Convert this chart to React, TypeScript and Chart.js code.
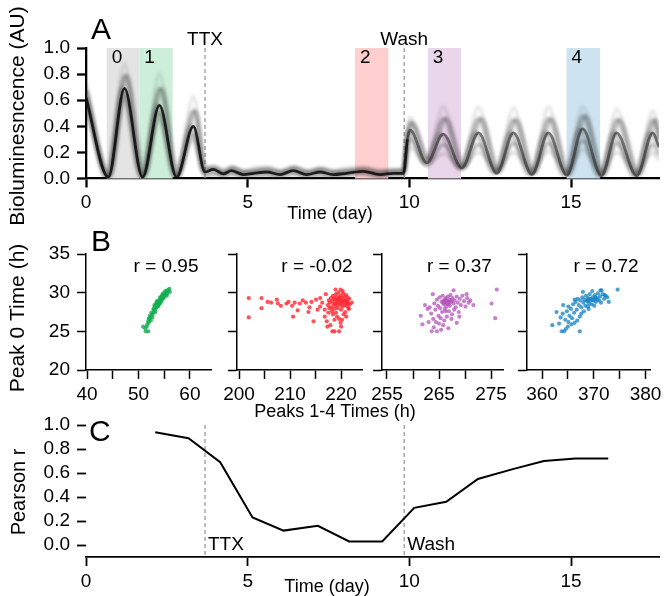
import React, { useEffect, useRef } from 'react';
import { Chart, registerables } from 'chart.js';

Chart.register(...registerables);

const W = 666;
const H = 596;
const FONT = "'Liberation Sans', Arial, Helvetica, sans-serif";

// ---------------- Panel A data ----------------
const regionLabels = ['0', '1', '2', '3', '4'];
const regionStarts = [0.64, 1.65, 8.32, 10.57, 14.86];
const regionEnds = [1.65, 2.68, 9.35, 11.6, 15.9];
const regionColors = ['#e4e4e4', '#cdeed9', '#ffcfcf', '#ead6ea', '#cde3ef'];
const eventDays = [3.68, 9.84];
const eventLabels = ['TTX', 'Wash'];

const extremaDays = [0.0, 0.69, 1.19, 1.75, 2.27, 2.8, 3.32, 3.68, 3.94, 4.25, 4.5, 4.87, 5.18, 5.6, 6.0, 6.41, 6.83, 7.24, 7.64, 8.06, 8.58, 9.09, 9.5, 9.82, 9.94, 10.02, 10.54, 11.05, 11.62, 12.14, 12.7, 13.22, 13.79, 14.3, 14.87, 15.36, 15.94, 16.41, 17.03, 17.53, 17.72];
const earlyDays = [0.0, 0.62, 1.12, 1.68, 2.2, 2.73, 3.25, 3.64, 3.9, 4.2, 4.45, 4.82, 5.13, 5.55, 5.95, 6.36, 6.78, 7.19, 7.59, 8.01, 8.53, 9.04, 9.45, 9.78, 9.9, 9.97, 10.46, 10.96, 11.53, 12.05, 12.61, 13.13, 13.7, 14.21, 14.78, 15.27, 15.85, 16.32, 16.94, 17.44, 17.72];
const lateDays = [0.0, 0.76, 1.26, 1.82, 2.34, 2.87, 3.39, 3.72, 3.98, 4.3, 4.55, 4.92, 5.23, 5.65, 6.05, 6.46, 6.88, 7.29, 7.69, 8.11, 8.63, 9.14, 9.55, 9.85, 9.98, 10.08, 10.63, 11.14, 11.71, 12.23, 12.79, 13.31, 13.88, 14.39, 14.96, 15.45, 16.03, 16.5, 17.12, 17.62, 17.72];

const coreLevels = [0.62, 0.01, 0.69, 0.01, 0.56, 0.01, 0.4, 0.05, 0.07, 0.035, 0.06, 0.03, 0.04, 0.05, 0.03, 0.06, 0.03, 0.05, 0.03, 0.04, 0.055, 0.03, 0.04, 0.04, 0.3, 0.37, 0.12, 0.34, 0.08, 0.35, 0.04, 0.35, 0.03, 0.35, 0.025, 0.38, 0.02, 0.35, 0.02, 0.35, 0.24];
const highLevels = [0.74, 0.03, 0.88, 0.03, 0.8, 0.03, 0.63, 0.09, 0.1, 0.07, 0.09, 0.06, 0.08, 0.09, 0.06, 0.09, 0.06, 0.08, 0.06, 0.08, 0.09, 0.06, 0.07, 0.07, 0.38, 0.47, 0.16, 0.55, 0.1, 0.55, 0.06, 0.54, 0.05, 0.55, 0.04, 0.55, 0.04, 0.53, 0.04, 0.52, 0.36];
const upperLevels = [0.68, 0.02, 0.79, 0.02, 0.69, 0.02, 0.52, 0.07, 0.08, 0.05, 0.08, 0.05, 0.06, 0.07, 0.05, 0.08, 0.05, 0.07, 0.05, 0.06, 0.07, 0.05, 0.06, 0.06, 0.34, 0.43, 0.14, 0.46, 0.09, 0.46, 0.05, 0.45, 0.04, 0.46, 0.03, 0.48, 0.03, 0.45, 0.03, 0.45, 0.3];
const lowerLevels = [0.58, 0.01, 0.64, 0.01, 0.5, 0.01, 0.34, 0.03, 0.04, 0.02, 0.04, 0.02, 0.03, 0.03, 0.02, 0.04, 0.02, 0.03, 0.02, 0.03, 0.04, 0.02, 0.03, 0.03, 0.25, 0.3, 0.1, 0.26, 0.07, 0.26, 0.05, 0.27, 0.04, 0.27, 0.04, 0.29, 0.03, 0.27, 0.03, 0.26, 0.18];
const lowLevels = [0.52, 0.02, 0.6, 0.02, 0.45, 0.02, 0.3, 0.02, 0.03, 0.02, 0.03, 0.01, 0.02, 0.02, 0.01, 0.03, 0.01, 0.02, 0.01, 0.02, 0.03, 0.01, 0.02, 0.02, 0.2, 0.24, 0.11, 0.19, 0.09, 0.2, 0.08, 0.2, 0.07, 0.21, 0.06, 0.22, 0.06, 0.2, 0.06, 0.2, 0.14];

// ---------------- Panel B data ([peak k time, peak 0 time]) ----------------
const peak1Pairs = [[50.9, 25.6], [51.4, 25.0], [51.9, 25.0], [51.3, 25.4], [51.7, 25.9], [51.9, 26.3], [52.1, 26.6], [52.0, 26.1], [52.3, 26.8], [52.4, 26.4], [52.6, 27.1], [52.5, 27.4], [52.8, 27.3], [52.9, 27.8], [53.0, 27.5], [53.1, 28.0], [53.2, 28.2], [53.3, 27.9], [53.4, 28.4], [53.5, 28.1], [53.6, 28.5], [53.7, 28.8], [53.8, 28.4], [53.9, 28.9], [54.0, 28.6], [54.1, 29.1], [54.2, 28.8], [54.3, 29.3], [54.4, 29.0], [54.5, 29.5], [54.6, 29.2], [54.7, 29.6], [54.8, 29.4], [54.9, 29.8], [55.0, 29.5], [55.1, 29.9], [55.3, 29.7], [55.4, 30.1], [55.6, 29.9], [55.8, 30.3], [56.0, 30.5], [56.1, 30.1], [53.5, 28.7], [53.9, 28.3], [54.3, 28.7], [52.2, 27.0], [54.6, 29.7], [55.2, 30.2], [53.0, 27.9], [52.7, 26.8], [53.3, 27.5], [53.7, 28.2], [54.1, 28.6], [54.5, 29.0], [54.9, 29.3], [55.5, 29.6], [52.0, 26.6], [51.6, 25.6], [53.1, 28.4], [53.6, 28.9], [54.2, 29.4], [54.8, 29.9], [55.6, 30.3]];
const peak2Pairs = [[201.9, 29.3], [201.9, 26.8], [204.4, 29.3], [204.4, 28.0], [205.6, 28.8], [206.3, 28.7], [207.4, 29.1], [207.6, 28.6], [208.2, 28.3], [209.3, 28.6], [209.7, 28.8], [210.4, 28.3], [210.6, 26.9], [210.9, 28.7], [211.5, 27.7], [211.9, 28.6], [212.5, 29.0], [213.1, 28.7], [213.6, 27.5], [213.8, 28.1], [214.2, 28.8], [214.6, 26.3], [215.1, 29.1], [215.4, 27.8], [215.9, 29.3], [215.9, 28.2], [216.3, 28.7], [216.8, 27.8], [216.8, 26.9], [217.0, 29.8], [217.2, 26.3], [217.3, 25.6], [218.3, 25.0], [218.7, 25.0], [219.6, 25.0], [218.9, 30.4], [219.9, 30.4], [219.2, 26.9], [219.9, 26.1], [220.2, 26.5], [217.9, 25.8], [222.1, 28.7], [221.5, 28.0], [220.8, 27.5], [217.4, 28.4], [217.6, 29.0], [217.8, 28.7], [218.0, 29.3], [218.1, 28.1], [218.3, 28.9], [218.4, 29.6], [218.5, 28.5], [218.6, 27.9], [218.8, 29.1], [218.9, 28.3], [219.0, 29.8], [219.1, 28.8], [219.2, 29.4], [219.3, 28.0], [219.4, 28.6], [219.5, 30.0], [219.6, 29.2], [219.7, 28.4], [219.8, 28.9], [219.9, 29.6], [220.0, 27.8], [220.1, 28.6], [220.2, 29.3], [220.3, 28.2], [220.4, 29.9], [220.5, 28.8], [220.6, 29.5], [220.7, 28.4], [220.8, 29.1], [220.9, 28.7], [221.0, 29.7], [221.1, 28.3], [221.2, 29.0], [221.3, 29.4], [221.4, 28.6], [221.5, 27.9], [221.6, 29.2], [218.2, 27.6], [217.7, 28.0], [219.0, 27.4], [220.5, 27.2], [221.0, 26.9], [219.6, 26.6], [218.7, 26.5], [220.0, 25.6], [218.4, 27.2], [217.5, 27.4], [221.7, 28.5], [220.3, 30.2], [218.6, 29.3], [219.3, 29.1], [220.0, 28.9], [220.6, 29.0], [219.7, 29.4], [218.9, 28.6], [221.2, 28.8]];
const peak3Pairs = [[261.5, 27.0], [261.8, 25.9], [262.3, 28.4], [262.8, 27.9], [263.6, 25.0], [264.6, 25.0], [263.8, 29.8], [267.8, 30.3], [276.1, 30.4], [275.1, 28.6], [275.8, 26.7], [271.6, 28.4], [271.0, 29.0], [270.3, 29.8], [268.4, 26.1], [266.8, 25.4], [265.8, 25.8], [263.2, 28.1], [263.5, 27.3], [263.9, 26.6], [264.1, 28.6], [264.3, 27.8], [264.4, 26.2], [264.6, 29.1], [264.8, 28.3], [264.9, 27.0], [265.1, 29.4], [265.2, 28.0], [265.3, 26.7], [265.5, 28.8], [265.6, 27.5], [265.7, 29.6], [265.9, 28.5], [266.0, 29.0], [266.1, 27.9], [266.2, 28.7], [266.3, 29.3], [266.4, 28.2], [266.5, 26.9], [266.6, 28.9], [266.7, 29.5], [266.8, 28.5], [266.9, 27.6], [267.0, 29.1], [267.1, 28.3], [267.2, 29.7], [267.3, 28.8], [267.5, 27.2], [267.6, 29.3], [267.8, 28.6], [268.0, 29.0], [268.2, 28.1], [268.4, 29.5], [268.6, 28.7], [268.8, 27.5], [269.0, 29.2], [269.2, 28.4], [269.5, 29.6], [269.8, 28.9], [270.1, 28.2], [270.4, 29.3], [270.7, 28.7], [264.0, 25.5], [265.0, 26.0], [266.0, 26.4], [267.4, 26.6], [268.9, 26.9], [263.0, 26.2], [265.4, 25.2], [266.3, 27.6], [267.9, 27.8], [265.8, 28.9], [266.2, 29.1], [266.6, 28.6], [267.0, 28.8], [266.4, 28.9], [265.9, 28.7], [266.9, 28.9], [267.4, 29.0]];
const peak4Pairs = [[362.0, 25.8], [362.8, 27.5], [363.8, 25.0], [364.3, 25.0], [367.3, 25.0], [374.6, 30.4], [372.9, 28.8], [372.1, 29.7], [371.5, 30.3], [366.3, 29.1], [365.1, 28.2], [364.1, 28.4], [363.3, 26.0], [365.1, 26.2], [366.3, 26.1], [367.6, 27.3], [368.9, 28.2], [363.6, 26.8], [364.0, 27.3], [364.5, 26.5], [364.8, 27.6], [365.0, 25.6], [365.3, 27.0], [365.6, 27.9], [365.8, 26.7], [366.0, 28.5], [366.2, 27.4], [366.5, 28.8], [366.7, 27.8], [366.9, 29.2], [367.1, 28.4], [367.3, 26.9], [367.4, 29.0], [367.6, 28.1], [367.8, 29.4], [368.0, 28.7], [368.2, 29.1], [368.4, 28.3], [368.5, 29.6], [368.7, 28.9], [368.9, 29.3], [369.1, 28.6], [369.2, 29.8], [369.4, 29.0], [369.6, 28.5], [369.8, 29.4], [370.0, 29.1], [370.2, 29.7], [370.4, 28.8], [370.6, 29.3], [370.8, 29.9], [371.0, 29.0], [371.2, 29.5], [371.4, 28.7], [371.7, 29.8], [372.0, 29.2], [372.3, 29.6], [372.6, 29.4], [370.1, 28.3], [369.0, 27.9], [368.1, 27.6], [366.8, 26.4], [365.7, 25.9], [364.6, 25.3], [367.9, 30.1], [369.7, 30.2], [371.3, 30.3], [369.3, 29.2], [369.9, 29.0], [370.3, 29.4], [368.8, 29.0], [370.7, 29.1]];
const scatterColors = ['rgba(20,175,80,0.8)', 'rgba(255,40,50,0.8)', 'rgba(180,85,185,0.75)', 'rgba(20,130,195,0.75)'];
const corrLabels = ['r = 0.95', 'r = -0.02', 'r = 0.37', 'r = 0.72'];
const xMins = [39.8, 199.6, 254.04, 357.1];
const xMaxs = [64.1, 224.1, 277.3, 380.96];

// ---------------- Panel C data ----------------
const cDays = [2.14, 3.17, 4.15, 5.15, 6.11, 7.17, 8.14, 9.16, 10.15, 11.14, 12.12, 13.17, 14.16, 15.14, 16.15];
const cPearson = [0.94, 0.89, 0.69, 0.23, 0.12, 0.16, 0.03, 0.03, 0.31, 0.36, 0.55, 0.63, 0.7, 0.72, 0.72];

// ---------------- helpers ----------------
type Area = { l: number; t: number; r: number; b: number };
const YW = 60;
const XH = 40;

function text(ctx: CanvasRenderingContext2D, s: string, x: number, y: number, size: number, align: CanvasTextAlign = 'center', rot = 0) {
  ctx.save();
  ctx.translate(x, y);
  if (rot) ctx.rotate(rot);
  ctx.font = `${size}px ${FONT}`;
  ctx.fillStyle = '#000';
  ctx.textAlign = align;
  ctx.textBaseline = 'middle';
  ctx.fillText(s, 0, 0);
  ctx.restore();
}

function dashed(chart: any, xv: number) {
  const ctx = chart.ctx as CanvasRenderingContext2D;
  const xs = chart.scales.x;
  const a = chart.chartArea;
  const px = xs.getPixelForValue(xv);
  ctx.save();
  ctx.strokeStyle = '#9a9a9a';
  ctx.lineWidth = 1.3;
  ctx.setLineDash([4, 3]);
  ctx.beginPath();
  ctx.moveTo(px, a.top);
  ctx.lineTo(px, a.bottom);
  ctx.stroke();
  ctx.restore();
}

function baseOptions(area: Area, x: any, y: any, lw: number, ySpine: boolean) {
  const tickFont = { size: 19, family: FONT };
  return {
    responsive: false,
    animation: false,
    events: [],
    layout: {
      autoPadding: false,
      padding: { left: area.l - YW, top: area.t, right: W - area.r, bottom: H - area.b - XH },
    },
    plugins: { legend: { display: false }, tooltip: { enabled: false }, title: { display: false } },
    scales: {
      x: {
        type: 'linear',
        position: 'bottom',
        min: x.min,
        max: x.max,
        afterFit: (s: any) => { s.height = XH; },
        ticks: { stepSize: x.step, includeBounds: false, autoSkip: false, maxRotation: 0, minRotation: 0, padding: 4, color: '#000', font: tickFont, callback: x.label },
        grid: { display: true, drawOnChartArea: false, drawTicks: true, tickLength: 9, tickWidth: lw, tickColor: '#000' },
        border: { display: true, color: '#000', width: lw },
      },
      y: {
        type: 'linear',
        position: 'left',
        min: y.min,
        max: y.max,
        afterFit: (s: any) => { s.width = YW; },
        ticks: { stepSize: y.step, includeBounds: false, autoSkip: false, padding: 7, color: '#000', font: tickFont, callback: y.label },
        grid: { display: true, drawOnChartArea: false, drawTicks: true, tickLength: 9, tickWidth: lw, tickColor: '#000' },
        border: { display: ySpine, color: '#000', width: lw },
      },
    },
  };
}

const dayLabel = (v: number) => String(Math.round(v));
const oneDec = (v: number) => Number(v).toFixed(1);

function trace(days: number[], levels: number[], color: string, width: number, extra: any = {}) {
  return {
    type: 'line',
    data: days.map((d, i) => ({ x: d, y: levels[i] })),
    borderColor: color,
    borderWidth: width,
    pointRadius: 0,
    fill: false,
    cubicInterpolationMode: 'monotone',
    ...extra,
  };
}

// ---------------- chart configs ----------------
function configA() {
  const area: Area = { l: 86, t: 48, r: 659, b: 178.5 };
  const opts: any = baseOptions(area, { min: 0, max: 17.72, step: 5, label: dayLabel }, { min: 0, max: 1, step: 0.2, label: oneDec }, 2.3, true);
  const coreSeg = { borderColor: (c: any) => (c.p0.parsed.x >= 9.84 ? 'rgba(40,40,40,0.6)' : 'rgba(15,15,15,0.9)') };
  return {
    type: 'line',
    data: {
      datasets: [
        trace(extremaDays, coreLevels, 'rgba(15,15,15,0.9)', 2.8, { segment: coreSeg }),
        trace(earlyDays, coreLevels, 'rgba(40,40,40,0.3)', 3.5),
        trace(lateDays, upperLevels, 'rgba(40,40,40,0.3)', 3.5),
        trace(extremaDays, upperLevels, 'rgba(40,40,40,0.3)', 3.5),
        trace(extremaDays, lowerLevels, 'rgba(40,40,40,0.3)', 3.5),
        trace(extremaDays, highLevels, 'rgba(60,60,60,0.13)', 3.5),
        trace(extremaDays, lowLevels, 'rgba(60,60,60,0.16)', 3.5),
      ],
    },
    options: opts,
    plugins: [
      {
        id: 'decoA',
        beforeDatasetsDraw(chart: any) {
          const ctx = chart.ctx as CanvasRenderingContext2D;
          const xs = chart.scales.x;
          const a = chart.chartArea;
          regionStarts.forEach((s, i) => {
            const x0 = xs.getPixelForValue(s);
            const x1 = xs.getPixelForValue(regionEnds[i]);
            ctx.fillStyle = regionColors[i];
            ctx.fillRect(x0, a.top, x1 - x0, a.bottom - a.top);
          });
          eventDays.forEach((d) => dashed(chart, d));
        },
        beforeDatasetDraw(chart: any, args: any) {
          const ctx = chart.ctx as CanvasRenderingContext2D;
          ctx.save();
          ctx.filter = args.index === 0 ? 'blur(0.6px)' : 'blur(1.6px)';
        },
        afterDatasetDraw(chart: any) {
          chart.ctx.restore();
        },
        afterDraw(chart: any) {
          const ctx = chart.ctx as CanvasRenderingContext2D;
          const xs = chart.scales.x;
          const a = chart.chartArea;
          regionStarts.forEach((s, i) => text(ctx, regionLabels[i], xs.getPixelForValue(s) + 5, a.top + 10, 19, 'left'));
          eventDays.forEach((d, i) => text(ctx, eventLabels[i], xs.getPixelForValue(d), a.top - 8, 19, 'center'));
          text(ctx, 'A', 91, 31, 30, 'left');
          text(ctx, 'Bioluminesncence (AU)', 18, 116, 21, 'center', -Math.PI / 2);
          text(ctx, 'Time (day)', 330, 214, 18, 'center');
        },
      },
    ],
  };
}

const bAreas: Area[] = [
  { l: 86, t: 254, r: 211, b: 370 },
  { l: 237, t: 254, r: 362, b: 370 },
  { l: 382, t: 254, r: 503, b: 370 },
  { l: 527, t: 254, r: 651, b: 370 },
];
const bPairs = [peak1Pairs, peak2Pairs, peak3Pairs, peak4Pairs];

function configB(k: number) {
  const area = bAreas[k];
  const everyOther = (v: number, i: number) => (i % 2 === 0 ? String(Math.round(v)) : '');
  const yLab = k === 0 ? (v: number) => String(Math.round(v)) : () => '';
  const opts: any = baseOptions(area, { min: xMins[k], max: xMaxs[k], step: 5, label: everyOther }, { min: 20, max: 35, step: 5, label: yLab }, 1.5, true);
  return {
    type: 'scatter',
    data: {
      datasets: [
        {
          data: bPairs[k].map((p) => ({ x: p[0], y: p[1] })),
          pointRadius: 2.1,
          pointBackgroundColor: scatterColors[k],
          pointBorderWidth: 0,
          borderWidth: 0,
        },
      ],
    },
    options: opts,
    plugins: [
      {
        id: 'decoB' + k,
        afterDraw(chart: any) {
          const ctx = chart.ctx as CanvasRenderingContext2D;
          const a = chart.chartArea;
          text(ctx, corrLabels[k], a.left + 0.64 * (a.right - a.left), 267, 19, 'center');
          if (k === 0) {
            text(ctx, 'B', 91, 243, 30, 'left');
            text(ctx, 'Peak 0 Time (h)', 18, 318, 21, 'center', -Math.PI / 2);
            text(ctx, 'Peaks 1-4 Times (h)', 335, 412, 18, 'center');
          }
        },
      },
    ],
  };
}

function configC() {
  const area: Area = { l: 86, t: 425, r: 659, b: 557 };
  const opts: any = baseOptions(area, { min: 0, max: 17.72, step: 5, label: dayLabel }, { min: -0.1, max: 1.0, step: 0.2, label: oneDec }, 1.8, false);
  return {
    type: 'line',
    data: {
      datasets: [
        {
          data: cDays.map((d, i) => ({ x: d, y: cPearson[i] })),
          borderColor: '#000',
          borderWidth: 2,
          pointRadius: 0,
          tension: 0,
          fill: false,
        },
      ],
    },
    options: opts,
    plugins: [
      {
        id: 'decoC',
        beforeDatasetsDraw(chart: any) {
          eventDays.forEach((d) => dashed(chart, d));
        },
        afterDraw(chart: any) {
          const ctx = chart.ctx as CanvasRenderingContext2D;
          const xs = chart.scales.x;
          eventDays.forEach((d, i) => text(ctx, eventLabels[i], xs.getPixelForValue(d) + 3, 545, 19, 'left'));
          text(ctx, 'C', 89, 433, 30, 'left');
          text(ctx, 'Pearson r', 19, 492, 20, 'center', -Math.PI / 2);
          text(ctx, 'Time (day)', 327, 587, 18, 'center');
        },
      },
    ],
  };
}

function ChartLayer({ make }: { make: () => any }) {
  const ref = useRef<HTMLCanvasElement>(null);
  useEffect(() => {
    const chart = new Chart(ref.current as HTMLCanvasElement, make());
    return () => chart.destroy();
  }, []);
  return <canvas ref={ref} width={W} height={H} style={{ position: 'absolute', left: 0, top: 0, width: W, height: H }} />;
}

export default function App() {
  return (
    <div style={{ position: 'absolute', left: 0, top: 0, width: W, height: H, background: '#fff', overflow: 'hidden' }}>
      <ChartLayer make={configA} />
      <ChartLayer make={() => configB(0)} />
      <ChartLayer make={() => configB(1)} />
      <ChartLayer make={() => configB(2)} />
      <ChartLayer make={() => configB(3)} />
      <ChartLayer make={configC} />
    </div>
  );
}
